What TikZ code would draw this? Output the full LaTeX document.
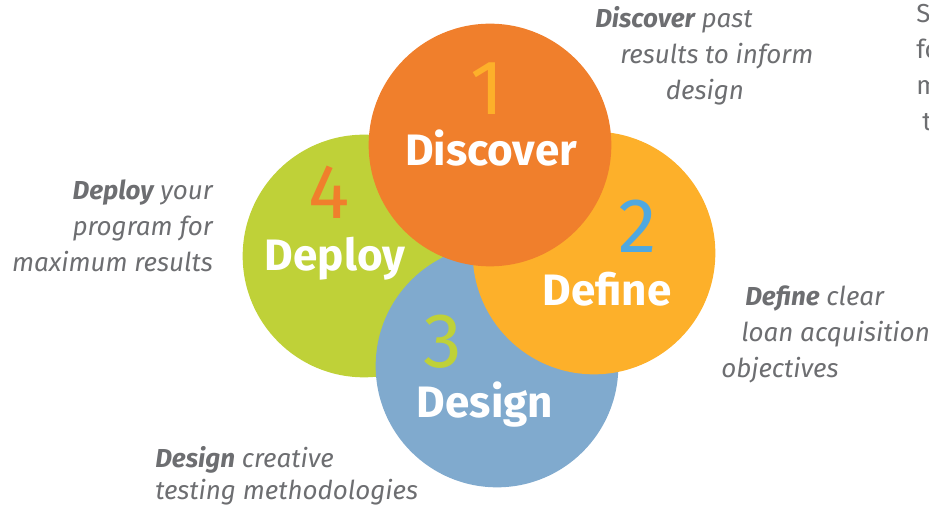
\documentclass[tikz,border=0pt]{standalone}
\usepackage{fontspec}
\setmainfont{Fira Sans}

\definecolor{discOrange}{HTML}{F07F2C}
\definecolor{defYellow}{HTML}{FDB02A}
\definecolor{desBlue}{HTML}{80AACE}
\definecolor{depGreen}{HTML}{BFD138}
\definecolor{numBlue}{HTML}{4FA8E0}
\definecolor{noteGray}{HTML}{6D6E71}

\begin{document}
\begin{tikzpicture}[x=0.75pt, y=-0.75pt,
    stage/.style={circle, minimum size=182pt, inner sep=0pt},
    title/.style={text=white, font=\bfseries\fontsize{33}{33}\selectfont, anchor=base, inner sep=0pt},
    num/.style={font=\fontsize{58}{58}\selectfont, anchor=base, inner sep=0pt},
    note/.style={text=noteGray, font=\itshape\fontsize{19.5}{27}\selectfont, inner sep=0pt}]
    \useasboundingbox (0,0) rectangle (929,509);

    % Circles, bottom one first
    \node[stage, fill=depGreen] (deploy) at (364,256) {};
    \node[stage, fill=desBlue] (design) at (497,366) {};
    \node[stage, fill=defYellow] (define) at (594,253) {};
    \node[stage, fill=discOrange] (discover) at (490,145) {};

    % Step numbers
    \node[num, text=defYellow] (n1) at (487,115) {1};
    \node[num, text=numBlue] (n2) at (638,253) {2};
    \node[num, text=depGreen] (n3) at (443,368) {3};
    \node[num, text=discOrange] (n4) at (329,219) {4};

    % Step titles
    \node[title] (t1) at (491,166) {Discover};
    \node[title] (t2) at (607,306) {Define};
    \node[title] (t3) at (485,418) {Design};
    \node[title] (t4) at (335,271) {Deploy};

    % Notes (anchored at the last line)
    \node[note, anchor=base west, align=left] (discovernote) at (595,100)
        {\textbf{Discover} past\\\hspace*{18.75pt}results to inform\\\hspace*{53pt}design};
    \node[note, anchor=base west, align=left] (definenote) at (721,378)
        {\hspace*{18pt}\textbf{Define} clear\\\hspace*{15pt}loan acquisition\\objectives};
    \node[note, anchor=base west, align=left, font=\itshape\fontsize{19.5}{24}\selectfont] (designnote) at (155,500)
        {\textbf{Design} creative\\testing methodologies};
    \node[note, anchor=base east, align=right] (deploynote) at (213,272)
        {\textbf{Deploy} your\\program for\\maximum results};
    \node[note, anchor=base west, align=left, font=\upshape\fontsize{19.5}{27}\selectfont] (cutnote) at (916,131)
        {S\\fo\\m\\\hspace*{4.5pt}t};

\end{tikzpicture}
\end{document}
